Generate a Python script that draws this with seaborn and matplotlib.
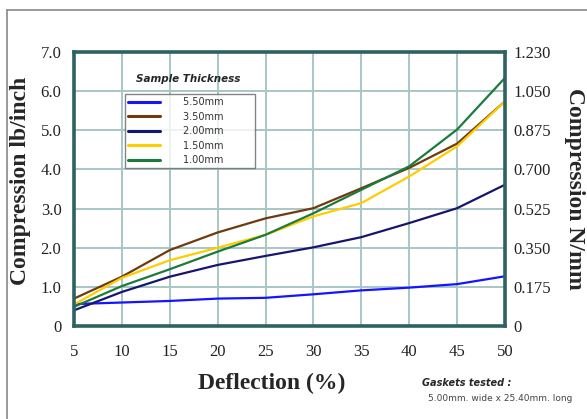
import numpy as np
import pandas as pd
import seaborn as sns
import matplotlib.pyplot as plt
from matplotlib.lines import Line2D
from matplotlib.ticker import FixedLocator, FixedFormatter

# deflection (%) and compression (lb/inch)
deflection = [5, 10, 15, 20, 25, 30, 35, 40, 45, 50]
thick_550 = [0.56, 0.60, 0.64, 0.70, 0.72, 0.81, 0.91, 0.98, 1.07, 1.27]
thick_350 = [0.70, 1.26, 1.94, 2.39, 2.75, 3.01, 3.52, 4.04, 4.66, 5.74]
thick_200 = [0.40, 0.87, 1.26, 1.56, 1.79, 2.01, 2.27, 2.63, 3.01, 3.61]
thick_150 = [0.55, 1.23, 1.68, 2.00, 2.33, 2.80, 3.14, 3.82, 4.59, 5.74]
thick_100 = [0.49, 1.02, 1.45, 1.90, 2.33, 2.88, 3.48, 4.08, 5.02, 6.34]

labels = ["5.50mm", "3.50mm", "2.00mm", "1.50mm", "1.00mm"]
colors = ["#1414ff", "#6e3a0e", "#16166e", "#ffcc00", "#1b7b3b"]

left_ticks = [0, 1, 2, 3, 4, 5, 6, 7]
left_labels = ["0", "1.0", "2.0", "3.0", "4.0", "5.0", "6.0", "7.0"]
right_labels = ["0", "0.175", "0.350", "0.525", "0.700", "0.875", "1.050", "1.230"]

df = pd.DataFrame({"Deflection": deflection * 5,
                   "Compression": thick_550 + thick_350 + thick_200 + thick_150 + thick_100,
                   "Thickness": sum([[l] * len(deflection) for l in labels], [])})

sns.set_style("white")
plt.rcParams['font.family'] = ['Liberation Serif', 'DejaVu Serif']

fig = plt.figure(figsize=(5.87, 4.19), dpi=100)
ax = fig.add_axes([74 / 587, 1 - 326 / 419, 431 / 587, 274 / 419])

sns.lineplot(data=df, x="Deflection", y="Compression", hue="Thickness",
             hue_order=labels, palette=colors, linewidth=1.6, ax=ax, legend=False)

ax.set_xlim(5, 50)
ax.set_ylim(0, 7)
ax.set_xticks(deflection)
ax.set_yticks(left_ticks)
ax.set_yticklabels(left_labels)
ax.grid(True, color="#a8c6c6", linewidth=1.4)
ax.set_axisbelow(True)
ax.tick_params(axis="both", length=0, labelsize=12, colors="#222222")
ax.tick_params(axis="x", pad=13)
ax.tick_params(axis="y", pad=9)
for s in ax.spines.values():
    s.set_color("#2e6262")
    s.set_linewidth(2.6)
ax.set_xlabel("Deflection (%)", fontsize=17, fontweight="bold", va="center")
ax.xaxis.set_label_coords((272 - 74) / 431, -(383 - 326) / 274)
ax.set_ylabel("Compression lb/inch", fontsize=17, fontweight="bold", va="center")
ax.yaxis.set_label_coords(-(74 - 21) / 431, 1 - (181 - 52) / 274)

ax2 = ax.twinx()
ax2.set_ylim(0, 7)
ax2.yaxis.set_major_locator(FixedLocator(left_ticks))
ax2.yaxis.set_major_formatter(FixedFormatter(right_labels))
ax2.tick_params(axis="y", length=0, labelsize=12, colors="#222222", pad=6)
for s in ax2.spines.values():
    s.set_visible(False)
ax2.set_ylabel("Compression N/mm", fontsize=17, fontweight="bold", rotation=270, va="center")
ax2.yaxis.set_label_coords(1 + (575 - 505) / 431, 1 - (189 - 52) / 274)

handles = [Line2D([0], [0], color=c, linewidth=2.2) for c in colors]
leg = ax.legend(handles, [l + "         " for l in labels], loc="upper left",
                bbox_to_anchor=(51 / 431, 1 - 42 / 274), borderaxespad=0,
                frameon=True, fancybox=False, shadow=False, handlelength=3.2,
                handletextpad=2.4, labelspacing=0.45, borderpad=0.35,
                prop={"family": "DejaVu Sans", "size": 7})
leg.get_frame().set_edgecolor("#666666")
leg.get_frame().set_linewidth(1.0)
for t in leg.get_texts():
    t.set_color("#333333")

fig.text(188 / 587, 1 - 79 / 419, "Sample Thickness", family="DejaVu Sans",
         fontsize=7.5, fontweight="bold", style="italic", ha="center", va="center")
fig.text(422 / 587, 1 - 383 / 419, "Gaskets tested :", family="DejaVu Sans",
         fontsize=7, fontweight="bold", style="italic", ha="left", va="center")
fig.text(428 / 587, 1 - 398 / 419, "5.00mm. wide x 25.40mm. long", family="DejaVu Sans",
         fontsize=6.5, color="#444444", ha="left", va="center")

# outer frame of the original graphic
fig.add_artist(Line2D([7 / 587, 1], [1 - 10 / 419, 1 - 10 / 419], transform=fig.transFigure,
                      color="#888888", linewidth=1.2))
fig.add_artist(Line2D([7 / 587, 7 / 587], [0, 1 - 10 / 419], transform=fig.transFigure,
                      color="#888888", linewidth=1.2))

fig.savefig("out.png", dpi=100)
